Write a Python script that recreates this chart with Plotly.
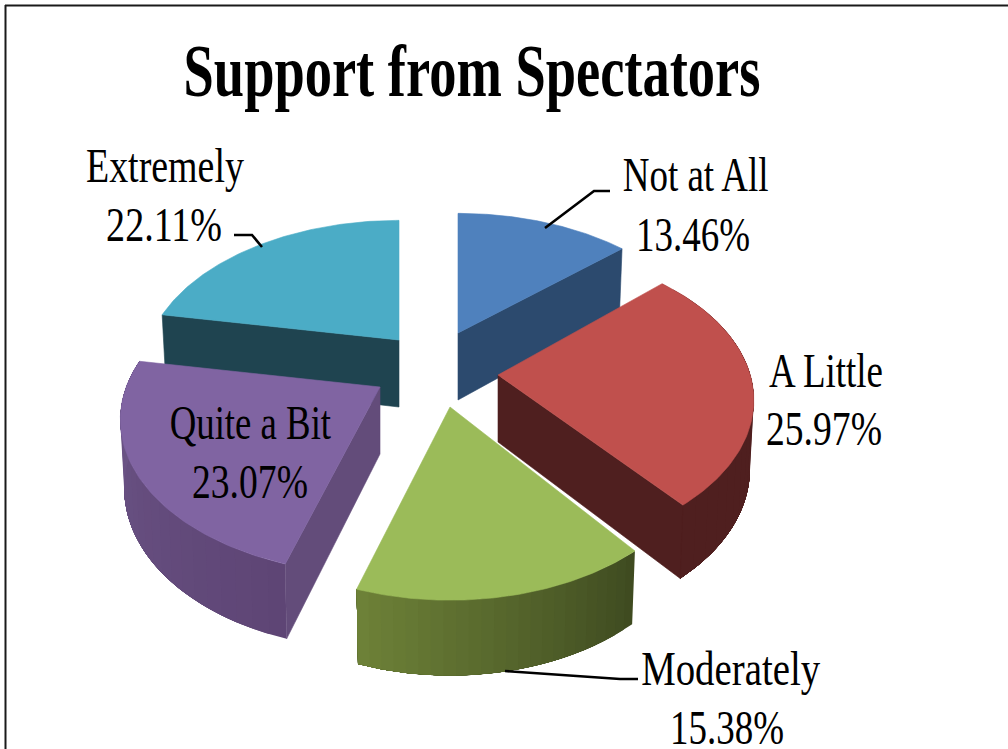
import json
import numpy as np
import plotly.graph_objects as go

# ---- data ----
CATEGORIES = ["Not at All", "A Little", "Moderately", "Quite a Bit", "Extremely"]
SHARES = [13.46, 25.97, 15.38, 23.07, 22.11]
TITLE = "Support from Spectators"

# ---- styling / layout ----
W, H_PX = 1008, 749
TOP = ["#4f81bd", "#c0504d", "#9bbb59", "#8064a2", "#4bacc6"]
RADIAL = ["#2c4a6e", "#4f1f1f", None, "#634c7a", "#1f4450"]
RADIAL_END = [1, 1, None, 0, 0]        # which cut edge of the slice shows a wall
OUTER = [None, ("#4f1f1f", "#4f1f1f"), ("#3e4a20", "#6e8238"), ("#5e4575", "#6d5688"), None]
APEX = [(458, 333), (498, 375), (450, 407), (380, 387), (399, 340)]
SCALE_X = [1.0, 1.0, 1.0, 1.015, 1.0]
SCALE_Y = [1.0, 1.0, 1.05, 1.02, 1.0]
RIM_DY = [0, -7, 0, 0, 0]
DRAW_ORDER = [4, 0, 3, 2, 1]
R, H, K = 250.0, 145.0, 0.212          # perspective of the pie's top face
DEPTH, KD, SHRINK = 67.0, 0.11, 0.985

LABELS = [  # name centre, pct centre, name width, pct width
    ((695, 174), (693, 234), 146, 114),
    ((826, 370), (824, 428), 114, 116),
    ((730, 668), (727, 727), 179, 114),
    ((250, 422), (250, 481), 162, 116),
    ((165, 165), (164, 224), 158, 116),
]
LEADERS = [
    ([545, 594, 610], [228, 191, 191]),
    ([505, 620, 638], [671, 679, 679]),
    ([234, 252, 262], [235, 235, 247]),
]

shares = np.array(SHARES)
edges = np.concatenate([[0], np.cumsum(shares)]) / shares.sum() * 2 * np.pi


def rim(i, t):
    ap = APEX[i]
    u, v = np.sin(t), np.cos(t)
    den = 1 + K * v
    return ap[0] + SCALE_X[i] * R * u / den, ap[1] + RIM_DY[i] - SCALE_Y[i] * H * v / den


def rim_bottom(i, t):
    x, y = rim(i, t)
    return APEX[i][0] + (x - APEX[i][0]) * SHRINK, y + DEPTH / (1 + KD * np.cos(t))


def hexmix(a, b, f):
    ca = [int(a[k:k + 2], 16) for k in (1, 3, 5)]
    cb = [int(b[k:k + 2], 16) for k in (1, 3, 5)]
    return "rgb(%d,%d,%d)" % tuple(round(p + (q - p) * f) for p, q in zip(ca, cb))


fig = go.Figure()


def poly(xs, ys, color, lw=0.6):
    fig.add_trace(go.Scatter(x=list(xs) + [xs[0]], y=list(ys) + [ys[0]], mode="lines", fill="toself",
                             fillcolor=color, line=dict(color=color, width=lw),
                             hoverinfo="skip", showlegend=False))


for i in DRAW_ORDER:
    a0, a1 = edges[i], edges[i + 1]
    ap = APEX[i]
    if OUTER[i]:
        n = 24
        ts = np.linspace(a0, a1, n + 1)
        for j in range(n):
            # each band runs to the far end of the wall, so later bands paint over it without seams
            seg = np.linspace(ts[j], a1, 40)
            top = [rim(i, t) for t in seg]
            bot = [rim_bottom(i, t) for t in seg[::-1]]
            xs, ys = zip(*(top + bot))
            poly(xs, ys, hexmix(OUTER[i][0], OUTER[i][1], (j + .5) / n), lw=0)
    if RADIAL[i]:
        t = a1 if RADIAL_END[i] else a0
        xa, ya = rim(i, t)
        xb, yb = rim_bottom(i, t)
        poly([ap[0], xa, xb, ap[0]], [ap[1], ya, yb, ap[1] + DEPTH], RADIAL[i])
    ts = np.linspace(a0, a1, 90)
    xs, ys = zip(*[rim(i, t) for t in ts])
    poly([ap[0], *xs], [ap[1], *ys], TOP[i])

for lx, ly in LEADERS:
    fig.add_trace(go.Scatter(x=lx, y=ly, mode="lines", line=dict(color="black", width=2.6),
                             hoverinfo="skip", showlegend=False))

font = dict(family="Liberation Serif", size=48, color="black")
annotations, widths = [], []
for name, share, (pn, pp, wn, wp) in zip(CATEGORIES, SHARES, LABELS):
    for txt, p, w in ((name, pn, wn), (f"{share:.2f}%", pp, wp)):
        annotations.append(dict(x=p[0], y=p[1], text=txt, showarrow=False, xref="x", yref="y",
                                xanchor="center", yanchor="middle", font=font))
        widths.append(w)

fig.update_layout(
    width=W, height=H_PX, margin=dict(l=0, r=0, t=0, b=0),
    paper_bgcolor="white", plot_bgcolor="white", showlegend=False,
    title=dict(text=TITLE, x=472 / W, y=1 - 70 / H_PX, xanchor="center", yanchor="middle",
               font=dict(family="Liberation Serif", size=73, color="black", weight="bold")),
    xaxis=dict(range=[0, W], visible=False, fixedrange=True),
    yaxis=dict(range=[H_PX, 0], visible=False, fixedrange=True),
    annotations=annotations,
    shapes=[
        dict(type="line", xref="x", yref="y", x0=5.5, x1=5.5, y0=5, y1=H_PX, line=dict(color="#1a1a1a", width=2)),
        dict(type="line", xref="x", yref="y", x0=5, x1=W, y0=5.5, y1=5.5, line=dict(color="#1a1a1a", width=2)),
    ],
)

# Text in the reference is horizontally condensed: fit each real text element to its measured width.
post = """
document.body.style.margin = '0';
var widths = %s, titleWidth = 577;
function fit(el, w) {
  var b = el.getBBox(), c = b.x + b.width / 2, s = w / b.width;
  el.setAttribute('transform', 'translate(' + c + ',0) scale(' + s + ',1) translate(' + (-c) + ',0)');
}
document.querySelectorAll('text.annotation-text').forEach(function (el, i) { fit(el, widths[i]); });
var t = document.querySelector('text.gtitle'); if (t) fit(t, titleWidth);
""" % json.dumps(widths)

fig.write_html("out.html", post_script=post, config=dict(displayModeBar=False))
